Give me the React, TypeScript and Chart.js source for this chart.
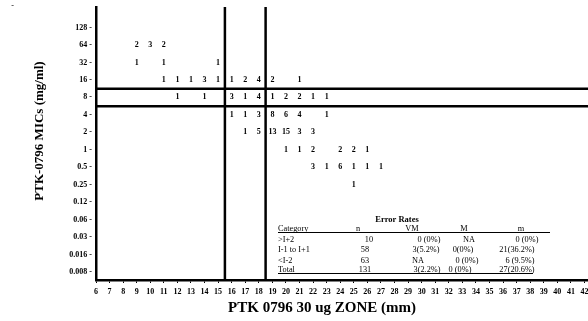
import React, { useEffect, useRef } from "react";
import { Chart, registerables } from "chart.js";

Chart.register(...registerables);

// ---------- data ----------
const zoneTicks = [6, 7, 8, 9, 10, 11, 12, 13, 14, 15, 16, 17, 18, 19, 20, 21, 22, 23, 24, 25, 26, 27, 28, 29, 30, 31, 32, 33, 34, 35, 36, 37, 38, 39, 40, 41, 42];
const micLabels = ["0.008", "0.016", "0.03", "0.06", "0.12", "0.25", "0.5", "1", "2", "4", "8", "16", "32", "64", "128"];

// one entry per non-empty cell of the scattergram
const cellZone = [
  9, 10, 11,
  9, 11, 15,
  11, 12, 13, 14, 15, 16, 17, 18, 19, 21,
  12, 14, 16, 17, 18, 19, 20, 21, 22, 23,
  16, 17, 18, 19, 20, 21, 23,
  17, 18, 19, 20, 21, 22,
  20, 21, 22, 24, 25, 26,
  22, 23, 24, 25, 26, 27,
  25,
];
const cellMic = [
  "64", "64", "64",
  "32", "32", "32",
  "16", "16", "16", "16", "16", "16", "16", "16", "16", "16",
  "8", "8", "8", "8", "8", "8", "8", "8", "8", "8",
  "4", "4", "4", "4", "4", "4", "4",
  "2", "2", "2", "2", "2", "2",
  "1", "1", "1", "1", "1", "1",
  "0.5", "0.5", "0.5", "0.5", "0.5", "0.5",
  "0.25",
];
const cellCount = [
  2, 3, 2,
  1, 1, 1,
  1, 1, 1, 3, 1, 1, 2, 4, 2, 1,
  1, 1, 3, 1, 4, 1, 2, 2, 1, 1,
  1, 1, 3, 8, 6, 4, 1,
  1, 5, 13, 15, 3, 3,
  1, 1, 2, 2, 2, 1,
  3, 1, 6, 1, 1, 1,
  1,
];

// interpretive breakpoints (zone in mm, MIC as position between categories)
const zoneBreakpoints = [15.5, 18.5];
const micBreakpoints = [9.5, 10.5];

// error-rate table
const tableTitle = "Error Rates";
const tableHeaders = ["Category", "n", "VM", "M", "m"];
const tableCategories = [">I+2", "I-1 to I+1", "<I-2", "Total"];
const tableN = ["10", "58", "63", "131"];
const tableVM = ["0 (0%)", "3(5.2%)", "NA", "3(2.2%)"];
const tableM = ["NA", "0(0%)", "0 (0%)", "0 (0%)"];
const tableMinor = ["0 (0%)", "21(36.2%)", "6 (9.5%)", "27(20.6%)"];

const xTitle = "PTK 0796 30 ug ZONE (mm)";
const yTitle = "PTK-0796 MICs (mg/ml)";

// ---------- layout ----------
const X_MIN = 6;
const X_MAX = 42.26;
const Y_MIN = -0.46;
const Y_MAX = 15.18;
const FONT = '"Liberation Serif", "Times New Roman", serif';

const tableHeaderX = [278, 358, 412, 464, 521];
const tableColX = [
  [369, 365, 365, 365],
  [429, 426, 418, 427],
  [469, 463, 467, 460],
  [527, 517, 520, 517],
];
const tableRowY = [239.5, 250.3, 260.5, 270.3];

const annotationsPlugin = {
  id: "annotationsPlugin",
  afterDatasetsDraw(chart: any) {
    const ctx = chart.ctx as CanvasRenderingContext2D;
    const meta = chart.getDatasetMeta(0);
    ctx.save();
    ctx.fillStyle = "#000";
    ctx.font = `bold 8px ${FONT}`;
    ctx.textAlign = "center";
    ctx.textBaseline = "middle";
    meta.data.forEach((el: any, i: number) => {
      ctx.fillText(String(cellCount[i]), el.x, el.y);
    });
    ctx.restore();
  },
  afterDraw(chart: any) {
    const ctx = chart.ctx as CanvasRenderingContext2D;
    ctx.save();
    ctx.fillStyle = "#000";
    ctx.strokeStyle = "#000";

    // axis titles
    ctx.font = `bold 15px ${FONT}`;
    ctx.textAlign = "center";
    ctx.textBaseline = "alphabetic";
    ctx.fillText(xTitle, 322, 312);

    ctx.save();
    ctx.translate(43, 131);
    ctx.rotate(-Math.PI / 2);
    ctx.font = `bold 13px ${FONT}`;
    ctx.fillText(yTitle, 0, 0);
    ctx.restore();

    // stray mark top-left
    ctx.font = `8px ${FONT}`;
    ctx.textBaseline = "middle";
    ctx.fillText("-", 12.5, 6);

    // table
    ctx.font = `bold 8.5px ${FONT}`;
    ctx.textAlign = "center";
    ctx.fillText(tableTitle, 397, 220);

    ctx.font = `8.3px ${FONT}`;
    ctx.textAlign = "left";
    ctx.fillText(tableHeaders[0], tableHeaderX[0], 229);
    ctx.textAlign = "center";
    for (let c = 1; c < tableHeaders.length; c++) {
      ctx.fillText(tableHeaders[c], tableHeaderX[c], 229);
    }
    const cols = [tableN, tableVM, tableM, tableMinor];
    for (let r = 0; r < tableCategories.length; r++) {
      ctx.textAlign = "left";
      ctx.fillText(tableCategories[r], tableHeaderX[0], tableRowY[r]);
      ctx.textAlign = "center";
      for (let c = 0; c < cols.length; c++) {
        ctx.fillText(cols[c][r], tableColX[c][r], tableRowY[r]);
      }
    }
    ctx.lineWidth = 1.2;
    ctx.beginPath();
    ctx.moveTo(278, 232.5);
    ctx.lineTo(550, 232.5);
    ctx.moveTo(278, 273.5);
    ctx.lineTo(533, 273.5);
    ctx.stroke();
    ctx.restore();
  },
};

export default function App() {
  const canvasRef = useRef<HTMLCanvasElement | null>(null);

  useEffect(() => {
    if (!canvasRef.current) return;
    const points = cellZone.map((z, i) => ({ x: z, y: micLabels.indexOf(cellMic[i]) }));
    const lineStyle = {
      showLine: true,
      borderColor: "#000",
      borderWidth: 2.5,
      pointRadius: 0,
      pointHoverRadius: 0,
      fill: false,
    };
    const datasets: any[] = [
      { label: "counts", data: points, pointRadius: 0, pointHoverRadius: 0, showLine: false },
      ...zoneBreakpoints.map((b) => ({
        ...lineStyle,
        label: `zone ${b}`,
        data: [{ x: b, y: Y_MIN }, { x: b, y: Y_MAX }],
      })),
      ...micBreakpoints.map((b) => ({
        ...lineStyle,
        label: `mic ${b}`,
        data: [{ x: X_MIN, y: b }, { x: X_MAX, y: b }],
      })),
    ];

    const chart = new Chart(canvasRef.current, {
      type: "scatter",
      data: { datasets },
      options: {
        animation: false,
        responsive: false,
        events: [],
        layout: { padding: { top: 7, left: 0, right: 0, bottom: 0 }, autoPadding: false },
        plugins: { legend: { display: false }, tooltip: { enabled: false } },
        scales: {
          x: {
            type: "linear",
            position: "bottom",
            min: X_MIN,
            max: X_MAX,
            afterBuildTicks: (s: any) => {
              s.ticks = zoneTicks.map((v) => ({ value: v }));
            },
            afterFit: (s: any) => {
              s.height = 41;
              s.paddingLeft = 0;
              s.paddingRight = 0;
            },
            grid: { display: true, drawOnChartArea: false, drawTicks: true, tickLength: 3, color: "#000", lineWidth: 1 },
            border: { display: true, color: "#000", width: 2.5 },
            ticks: {
              autoSkip: false,
              maxRotation: 0,
              padding: 4,
              color: "#000",
              font: { family: FONT, size: 8, weight: "bold" },
              callback: (v: any) => String(v),
            },
          },
          y: {
            type: "linear",
            min: Y_MIN,
            max: Y_MAX,
            afterBuildTicks: (s: any) => {
              s.ticks = micLabels.map((_, i) => ({ value: i }));
            },
            afterFit: (s: any) => {
              s.width = 96;
              s.paddingTop = 0;
              s.paddingBottom = 0;
            },
            grid: { display: false, drawTicks: false, tickLength: 0 },
            border: { display: true, color: "#000", width: 2.5 },
            ticks: {
              autoSkip: false,
              padding: 4,
              color: "#000",
              font: { family: FONT, size: 8, weight: "bold" },
              callback: (v: any) => {
                const l = micLabels[v as number];
                return l === undefined ? "" : l + " -";
              },
            },
          },
        },
      } as any,
      plugins: [annotationsPlugin],
    });
    return () => chart.destroy();
  }, []);

  return (
    <div style={{ position: "fixed", left: 0, top: 0, width: 588, height: 321, background: "#fff" }}>
      <canvas ref={canvasRef} width={588} height={321} style={{ display: "block" }} />
    </div>
  );
}
